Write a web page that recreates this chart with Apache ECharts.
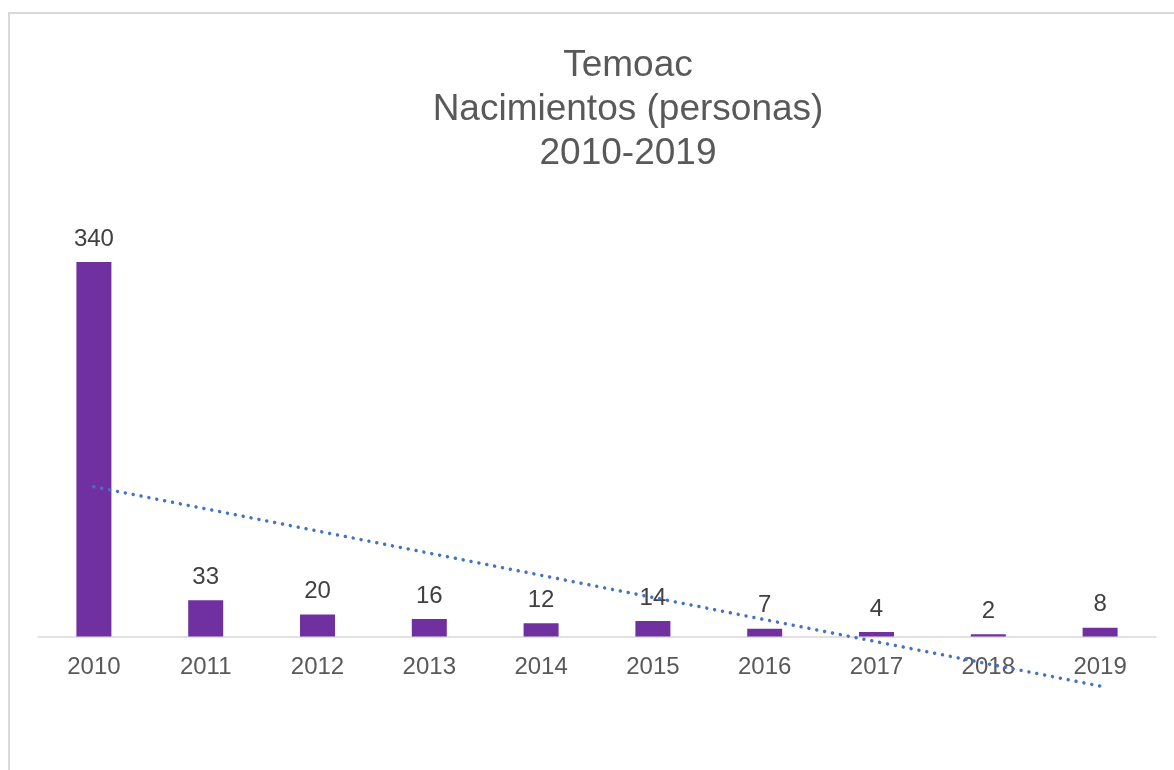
<!DOCTYPE html>
<html>
<head>
<meta charset="utf-8">
<script src="https://cdn.jsdelivr.net/npm/echarts@6/dist/echarts.min.js"></script>
<style>
  html, body { margin: 0; padding: 0; background: #fff; }
  #chart { width: 1174px; height: 770px; }
</style>
</head>
<body>
<div id="chart"></div>
<script>
// 数据
const years = ["2010", "2011", "2012", "2013", "2014", "2015", "2016", "2017", "2018", "2019"];
const births = [340, 33, 20, 16, 12, 14, 7, 4, 2, 8];
// linear trend at first and last year
const trendEnds = [136, -45];

const trendData = years.map((y, i) =>
  i === 0 ? trendEnds[0] : i === years.length - 1 ? trendEnds[1] : null
);

const chart = echarts.init(document.getElementById("chart"));
const option = {
  animation: false,
  textStyle: { fontFamily: "Liberation Sans, Arial, sans-serif" },
  title: {
    text: "Temoac\nNacimientos (personas)\n2010-2019",
    left: 628,
    textAlign: "center",
    top: 44,
    padding: 0,
    textStyle: {
      fontSize: 37,
      lineHeight: 44,
      fontWeight: "normal",
      color: "#595959",
    },
  },
  graphic: [
    {
      type: "rect",
      shape: { x: 9, y: 13, width: 1200, height: 800 },
      style: { fill: "none", stroke: "#d9d9d9", lineWidth: 2 },
      silent: true,
    },
  ],
  // zero sits on the grid bottom; the trend line runs below it (clip off)
  grid: { left: 38, right: 18, top: 196, bottom: 133.5, outerBoundsMode: "none" },
  xAxis: {
    type: "category",
    data: years,
    axisTick: { show: false },
    axisLine: { lineStyle: { color: "#d9d9d9", width: 1.5 } },
    axisLabel: { fontSize: 24, color: "#595959", margin: 19 },
  },
  yAxis: {
    type: "value",
    min: 0,
    max: 400,
    show: false,
    splitLine: { show: false },
  },
  series: [
    {
      name: "Nacimientos",
      type: "bar",
      data: births,
      barWidth: 35,
      itemStyle: { color: "#7030A0" },
      label: {
        show: true,
        position: "top",
        distance: 11,
        fontSize: 24,
        color: "#404040",
      },
    },
    {
      name: "Tendencia",
      type: "line",
      data: trendData,
      connectNulls: true,
      clip: false,
      symbol: "none",
      z: 3,
      lineStyle: { color: "#4472C4", width: 3.5, type: [0.01, 8], cap: "round" },
    },
  ],
};
chart.setOption(option);
window.onresize = () => chart.resize();
</script>
</body>
</html>
